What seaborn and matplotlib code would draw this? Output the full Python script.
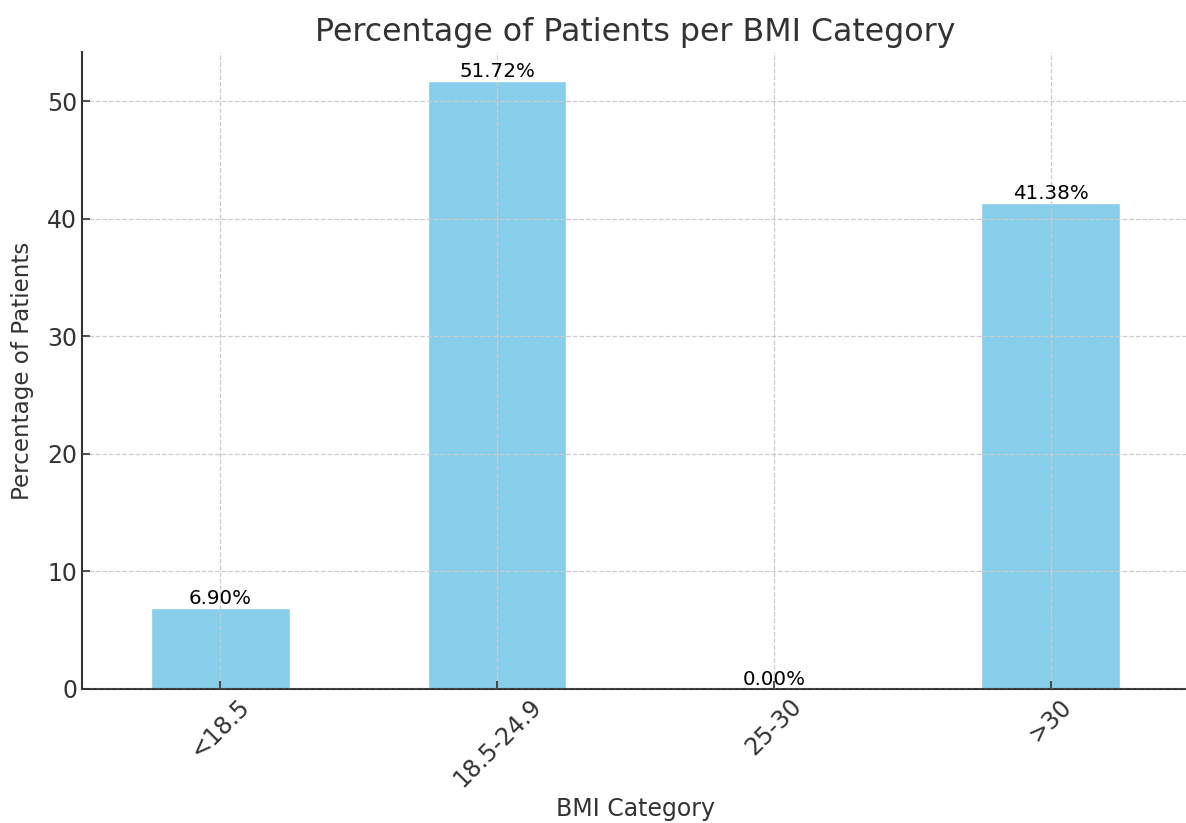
import matplotlib
matplotlib.use("Agg")
import matplotlib.pyplot as plt
import seaborn as sns
import pandas as pd

categories = ["<18.5", "18.5-24.9", "25-30", ">30"]
percentages = [6.90, 51.72, 0.00, 41.38]

df = pd.DataFrame({"BMI Category": categories, "Percentage": percentages})

sns.set_style("ticks")
plt.rcParams["font.family"] = ["DejaVu Sans"]

fig = plt.figure(figsize=(11.86, 8.23), dpi=100)
ax = fig.add_axes([82 / 1186, (823 - 689) / 823, (1189 - 82) / 1186, (689 - 52) / 823])

sns.barplot(data=df, x="BMI Category", y="Percentage", color="skyblue",
            saturation=1, width=0.5, ax=ax)

for i, v in enumerate(percentages):
    ax.text(i, v, f"{v:.2f}%", ha="center", va="bottom", fontsize=14.3, color="black")

ax.set_xlim(-0.5, 3.5)
ax.set_ylim(0, 54.2)
ax.set_title("Percentage of Patients per BMI Category", fontsize=22.8, color="#333333", pad=8)
ax.set_xlabel("BMI Category", fontsize=17, color="#333333", labelpad=4)
ax.set_ylabel("Percentage of Patients", fontsize=16.6, color="#333333", labelpad=9)

ax.tick_params(axis="both", direction="in", length=6, width=1.2, colors="#333333", labelsize=17)
ax.tick_params(axis="x", labelrotation=45)
for lbl in ax.get_xticklabels():
    lbl.set_ha("center")

ax.grid(True, linestyle="--", color="#cccccc", linewidth=0.9)
ax.set_axisbelow(False)
for s in ["top", "right"]:
    ax.spines[s].set_visible(False)
for s in ["left", "bottom"]:
    ax.spines[s].set_color("#333333")
    ax.spines[s].set_linewidth(1.5)

fig.savefig("out.png", dpi=100)
